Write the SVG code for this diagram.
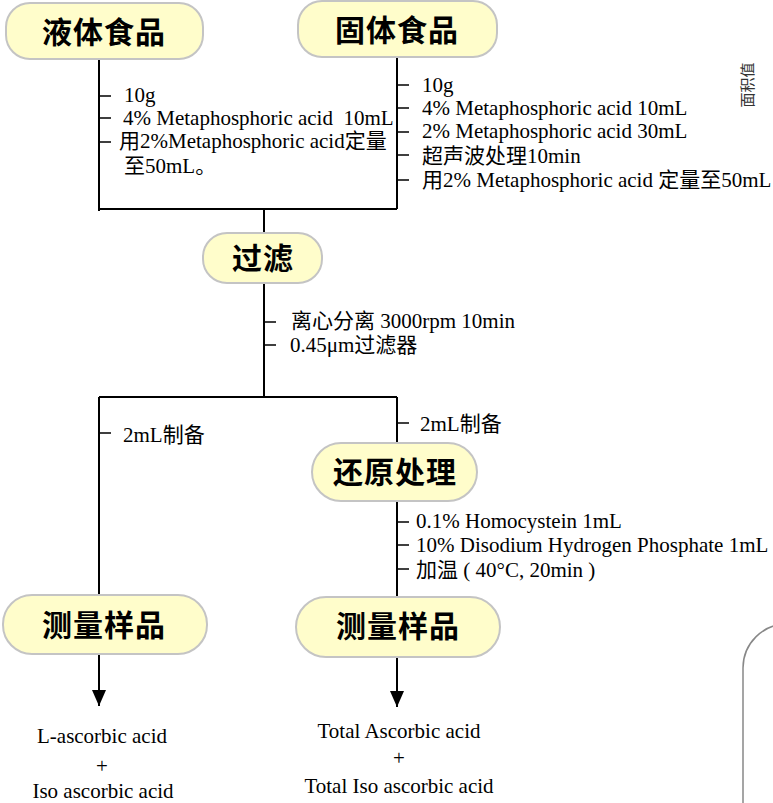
<svg xmlns="http://www.w3.org/2000/svg" width="773" height="803" viewBox="0 0 773 803">
<style>
.node rect{fill:#FFFDCB;stroke:#C4C4C4;stroke-width:2}
.node text{font-family:"Noto Sans CJK SC","Noto Sans CJK JP",sans-serif;font-weight:bold;font-size:30px;letter-spacing:1px;text-anchor:middle;fill:#000}
.ln{stroke:#000;stroke-width:2;fill:none}
.tk{stroke:#000;stroke-width:1.5;fill:none}
.t{font-family:"Liberation Serif","Noto Sans CJK SC",serif;font-size:21px;fill:#000}
.c{text-anchor:middle}
</style>
<defs>
<marker id="arr" viewBox="0 0 16 14" refX="16" refY="7" markerWidth="16" markerHeight="14" markerUnits="userSpaceOnUse" orient="auto">
<path d="M0,0 L16,7 L0,14 Z" fill="#000"/>
</marker>
</defs>
<rect width="773" height="803" fill="#fff"/>
<g id="connectors">
<path class="ln" d="M99,59 V211 M99,209 H397 M397,57 V209 M264,209 V233"/>
<path class="tk" d="M99,96 H111 M99,118 H111 M99,142 H111"/>
<path class="tk" d="M397,85 H409 M397,108 H409 M397,132 H409 M397,155 H409 M397,180 H409"/>
<path class="ln" d="M264,283 V397 M99,397 H397"/>
<path class="tk" d="M264,322 H276 M264,345 H276"/>
<path class="ln" d="M99,397 V595 M397,397 V443 M397,501 V597"/>
<path class="tk" d="M99,433 H111 M397,423 H409 M397,522 H409 M397,545 H409 M397,569 H409"/>
<line class="ln" x1="99" y1="654" x2="99" y2="706" marker-end="url(#arr)"/>
<line class="ln" x1="397" y1="657" x2="397" y2="707" marker-end="url(#arr)"/>
</g>
<g id="node-liquid" class="node"><rect x="6" y="3" width="197" height="56" rx="24"/><text x="104" y="43">液体食品</text></g>
<g id="node-solid" class="node"><rect x="298" y="1" width="199" height="56" rx="24"/><text x="397" y="41">固体食品</text></g>
<g id="node-filter" class="node"><rect x="203" y="233" width="119" height="50" rx="24"/><text x="263" y="269">过滤</text></g>
<g id="node-reduce" class="node"><rect x="312" y="443" width="165" height="58" rx="29"/><text x="395" y="483">还原处理</text></g>
<g id="node-measure1" class="node"><rect x="3" y="595" width="204" height="59" rx="29"/><text x="104" y="636">测量样品</text></g>
<g id="node-measure2" class="node"><rect x="296" y="597" width="204" height="60" rx="30"/><text x="398" y="637">测量样品</text></g>
<g id="labels">
<text class="t" x="124" y="102">10g</text>
<text class="t" x="123" y="125" xml:space="preserve">4% Metaphosphoric acid  10mL</text>
<text class="t" x="119" y="148">用2%Metaphosphoric acid定量</text>
<text class="t" x="124" y="173">至50mL。</text>
<text class="t" x="422" y="92">10g</text>
<text class="t" x="422" y="115">4% Metaphosphoric acid 10mL</text>
<text class="t" x="422" y="138">2% Metaphosphoric acid 30mL</text>
<text class="t" x="422" y="163">超声波处理10min</text>
<text class="t" x="422" y="187">用2% Metaphosphoric acid 定量至50mL</text>
<text class="t" x="291" y="328">离心分离 3000rpm 10min</text>
<text class="t" x="290" y="352">0.45μm过滤器</text>
<text class="t" x="123" y="442">2mL制备</text>
<text class="t" x="420" y="431">2mL制备</text>
<text class="t" x="416" y="528">0.1% Homocystein 1mL</text>
<text class="t" x="416" y="552">10% Disodium Hydrogen Phosphate 1mL</text>
<text class="t" x="416" y="577">加温 ( 40°C, 20min )</text>
<text class="t c" x="102" y="743">L-ascorbic acid</text>
<text class="t c" x="102" y="773">+</text>
<text class="t c" x="103" y="798">Iso ascorbic acid</text>
<text class="t c" x="399" y="738">Total Ascorbic acid</text>
<text class="t c" x="399" y="765">+</text>
<text class="t c" x="399" y="793">Total Iso ascorbic acid</text>
<text x="0" y="0" transform="translate(753,85) rotate(-90)" font-family="Noto Sans CJK SC,sans-serif" font-size="15" fill="#333" text-anchor="middle">面积值</text>
</g>
<path d="M743,803 V668 A44,44 0 0 1 787,624" fill="none" stroke="#888" stroke-width="1.5"/>
</svg>
